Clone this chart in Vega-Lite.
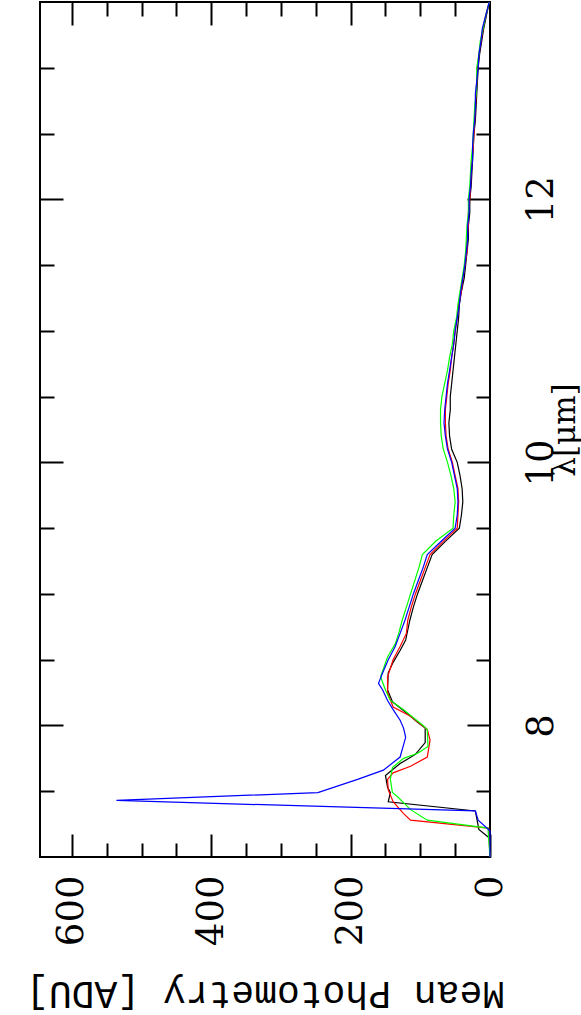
{
"$schema": "https://vega.github.io/schema/vega-lite/v6.json",
"width": 450, "height": 855,
"autosize": "none",
"padding": {"left": 40, "top": 2, "right": 91, "bottom": 158},
"background": "white",
"config": {"view": {"stroke": "black", "strokeWidth": 2}},
"data": {"values": [
{"s":"black","l":7.14,"v":0},{"s":"black","l":7.21,"v":16},{"s":"black","l":7.35,"v":21},{"s":"black","l":7.42,"v":146},{"s":"black","l":7.49,"v":143},{"s":"black","l":7.53,"v":147},{"s":"black","l":7.62,"v":150},{"s":"black","l":7.65,"v":143},{"s":"black","l":7.71,"v":129},{"s":"black","l":7.78,"v":107},{"s":"black","l":7.87,"v":93},{"s":"black","l":7.98,"v":93},{"s":"black","l":8.02,"v":103},{"s":"black","l":8.10,"v":121},{"s":"black","l":8.18,"v":140},{"s":"black","l":8.27,"v":147},{"s":"black","l":8.40,"v":146},{"s":"black","l":8.48,"v":139},{"s":"black","l":8.57,"v":129},{"s":"black","l":8.65,"v":121},
{"s":"black","l":8.7,"v":119},{"s":"black","l":8.8,"v":115},{"s":"black","l":8.9,"v":110},{"s":"black","l":9.0,"v":104},{"s":"black","l":9.1,"v":97},{"s":"black","l":9.2,"v":90},{"s":"black","l":9.3,"v":83},{"s":"black","l":9.4,"v":64},{"s":"black","l":9.5,"v":44},{"s":"black","l":9.6,"v":41},{"s":"black","l":9.7,"v":39},{"s":"black","l":9.8,"v":40},{"s":"black","l":9.9,"v":43},{"s":"black","l":10.0,"v":47},{"s":"black","l":10.1,"v":55},{"s":"black","l":10.2,"v":58},{"s":"black","l":10.3,"v":59},{"s":"black","l":10.4,"v":57},{"s":"black","l":10.5,"v":57},{"s":"black","l":10.6,"v":55},{"s":"black","l":10.7,"v":53},{"s":"black","l":10.8,"v":51},{"s":"black","l":10.9,"v":49},{"s":"black","l":11.0,"v":47},{"s":"black","l":11.1,"v":45},{"s":"black","l":11.2,"v":44},{"s":"black","l":11.3,"v":41},{"s":"black","l":11.4,"v":37},{"s":"black","l":11.5,"v":35},{"s":"black","l":11.6,"v":33},{"s":"black","l":11.7,"v":31},{"s":"black","l":11.8,"v":31},{"s":"black","l":11.9,"v":29},{"s":"black","l":12.0,"v":29},{"s":"black","l":12.1,"v":27},{"s":"black","l":12.2,"v":26},{"s":"black","l":12.3,"v":25},{"s":"black","l":12.4,"v":24},{"s":"black","l":12.5,"v":23},{"s":"black","l":12.6,"v":21},{"s":"black","l":12.7,"v":20},{"s":"black","l":12.8,"v":19},{"s":"black","l":12.9,"v":18},{"s":"black","l":13.0,"v":17},{"s":"black","l":13.1,"v":15},{"s":"black","l":13.2,"v":12},{"s":"black","l":13.3,"v":9},{"s":"black","l":13.4,"v":5},{"s":"black","l":13.5,"v":1},
{"s":"red","l":7.0,"v":0},{"s":"red","l":7.22,"v":2},{"s":"red","l":7.28,"v":114},{"s":"red","l":7.33,"v":124},{"s":"red","l":7.42,"v":139},{"s":"red","l":7.51,"v":146},{"s":"red","l":7.59,"v":147},{"s":"red","l":7.64,"v":139},{"s":"red","l":7.69,"v":114},{"s":"red","l":7.76,"v":90},{"s":"red","l":7.89,"v":86},{"s":"red","l":7.97,"v":90},{"s":"red","l":8.07,"v":114},{"s":"red","l":8.14,"v":139},{"s":"red","l":8.25,"v":147},{"s":"red","l":8.37,"v":147},{"s":"red","l":8.50,"v":139},{"s":"red","l":8.60,"v":129},
{"s":"red","l":8.7,"v":120},{"s":"red","l":8.8,"v":118},{"s":"red","l":8.9,"v":113},{"s":"red","l":9.0,"v":107},{"s":"red","l":9.1,"v":100},{"s":"red","l":9.2,"v":93},{"s":"red","l":9.3,"v":86},{"s":"red","l":9.4,"v":67},{"s":"red","l":9.5,"v":47},{"s":"red","l":9.6,"v":46},{"s":"red","l":9.7,"v":45},{"s":"red","l":9.8,"v":46},{"s":"red","l":9.9,"v":50},{"s":"red","l":10.0,"v":54},{"s":"red","l":10.1,"v":60},{"s":"red","l":10.2,"v":63},{"s":"red","l":10.3,"v":64},{"s":"red","l":10.4,"v":64},{"s":"red","l":10.5,"v":62},{"s":"red","l":10.6,"v":60},{"s":"red","l":10.7,"v":57},{"s":"red","l":10.8,"v":55},{"s":"red","l":10.9,"v":52},{"s":"red","l":11.0,"v":50},{"s":"red","l":11.1,"v":47},{"s":"red","l":11.2,"v":45},{"s":"red","l":11.3,"v":41},{"s":"red","l":11.4,"v":39},{"s":"red","l":11.5,"v":36},{"s":"red","l":11.6,"v":33},{"s":"red","l":11.7,"v":33},{"s":"red","l":11.8,"v":31},{"s":"red","l":11.9,"v":31},{"s":"red","l":12.0,"v":29},{"s":"red","l":12.1,"v":28},{"s":"red","l":12.2,"v":27},{"s":"red","l":12.3,"v":26},{"s":"red","l":12.4,"v":24},{"s":"red","l":12.5,"v":23},{"s":"red","l":12.6,"v":22},{"s":"red","l":12.7,"v":21},{"s":"red","l":12.8,"v":20},{"s":"red","l":12.9,"v":19},{"s":"red","l":13.0,"v":18},{"s":"red","l":13.1,"v":16},{"s":"red","l":13.2,"v":13},{"s":"red","l":13.3,"v":10},{"s":"red","l":13.4,"v":6},{"s":"red","l":13.5,"v":1},
{"s":"green","l":7.0,"v":0},{"s":"green","l":7.22,"v":3},{"s":"green","l":7.28,"v":90},{"s":"green","l":7.36,"v":114},{"s":"green","l":7.46,"v":133},{"s":"green","l":7.49,"v":140},{"s":"green","l":7.59,"v":143},{"s":"green","l":7.68,"v":140},{"s":"green","l":7.75,"v":124},{"s":"green","l":7.79,"v":103},{"s":"green","l":7.84,"v":89},{"s":"green","l":7.97,"v":90},{"s":"green","l":8.0,"v":96},{"s":"green","l":8.12,"v":124},{"s":"green","l":8.19,"v":143},{"s":"green","l":8.27,"v":150},{"s":"green","l":8.37,"v":157},{"s":"green","l":8.52,"v":147},{"s":"green","l":8.62,"v":136},
{"s":"green","l":8.7,"v":131},{"s":"green","l":8.8,"v":126},{"s":"green","l":8.9,"v":120},{"s":"green","l":9.0,"v":114},{"s":"green","l":9.1,"v":108},{"s":"green","l":9.2,"v":102},{"s":"green","l":9.3,"v":97},{"s":"green","l":9.4,"v":78},{"s":"green","l":9.5,"v":53},{"s":"green","l":9.6,"v":52},{"s":"green","l":9.7,"v":50},{"s":"green","l":9.8,"v":52},{"s":"green","l":9.9,"v":56},{"s":"green","l":10.0,"v":61},{"s":"green","l":10.1,"v":67},{"s":"green","l":10.2,"v":70},{"s":"green","l":10.3,"v":71},{"s":"green","l":10.4,"v":71},{"s":"green","l":10.5,"v":69},{"s":"green","l":10.6,"v":65},{"s":"green","l":10.7,"v":61},{"s":"green","l":10.8,"v":58},{"s":"green","l":10.9,"v":54},{"s":"green","l":11.0,"v":52},{"s":"green","l":11.1,"v":48},{"s":"green","l":11.2,"v":46},{"s":"green","l":11.3,"v":43},{"s":"green","l":11.4,"v":40},{"s":"green","l":11.5,"v":37},{"s":"green","l":11.6,"v":35},{"s":"green","l":11.7,"v":34},{"s":"green","l":11.8,"v":33},{"s":"green","l":11.9,"v":31},{"s":"green","l":12.0,"v":31},{"s":"green","l":12.1,"v":29},{"s":"green","l":12.2,"v":28},{"s":"green","l":12.3,"v":27},{"s":"green","l":12.4,"v":25},{"s":"green","l":12.5,"v":24},{"s":"green","l":12.6,"v":23},{"s":"green","l":12.7,"v":22},{"s":"green","l":12.8,"v":20},{"s":"green","l":12.9,"v":19},{"s":"green","l":13.0,"v":19},{"s":"green","l":13.1,"v":16},{"s":"green","l":13.2,"v":14},{"s":"green","l":13.3,"v":10},{"s":"green","l":13.4,"v":6},{"s":"green","l":13.5,"v":1},
{"s":"blue","l":7.0,"v":0},{"s":"blue","l":7.2,"v":0},{"s":"blue","l":7.28,"v":17},{"s":"blue","l":7.35,"v":21},{"s":"blue","l":7.43,"v":536},{"s":"blue","l":7.49,"v":247},{"s":"blue","l":7.59,"v":190},{"s":"blue","l":7.66,"v":153},{"s":"blue","l":7.76,"v":129},{"s":"blue","l":7.91,"v":121},{"s":"blue","l":7.98,"v":124},{"s":"blue","l":8.04,"v":129},{"s":"blue","l":8.12,"v":139},{"s":"blue","l":8.19,"v":147},{"s":"blue","l":8.27,"v":154},{"s":"blue","l":8.32,"v":160},{"s":"blue","l":8.40,"v":154},{"s":"blue","l":8.50,"v":146},{"s":"blue","l":8.60,"v":136},
{"s":"blue","l":8.7,"v":129},{"s":"blue","l":8.8,"v":122},{"s":"blue","l":8.9,"v":116},{"s":"blue","l":9.0,"v":110},{"s":"blue","l":9.1,"v":103},{"s":"blue","l":9.2,"v":96},{"s":"blue","l":9.3,"v":90},{"s":"blue","l":9.4,"v":70},{"s":"blue","l":9.5,"v":50},{"s":"blue","l":9.6,"v":47},{"s":"blue","l":9.7,"v":46},{"s":"blue","l":9.8,"v":47},{"s":"blue","l":9.9,"v":51},{"s":"blue","l":10.0,"v":55},{"s":"blue","l":10.1,"v":61},{"s":"blue","l":10.2,"v":64},{"s":"blue","l":10.3,"v":66},{"s":"blue","l":10.4,"v":65},{"s":"blue","l":10.5,"v":63},{"s":"blue","l":10.6,"v":61},{"s":"blue","l":10.7,"v":58},{"s":"blue","l":10.8,"v":55},{"s":"blue","l":10.9,"v":52},{"s":"blue","l":11.0,"v":50},{"s":"blue","l":11.1,"v":47},{"s":"blue","l":11.2,"v":44},{"s":"blue","l":11.3,"v":42},{"s":"blue","l":11.4,"v":39},{"s":"blue","l":11.5,"v":36},{"s":"blue","l":11.6,"v":34},{"s":"blue","l":11.7,"v":32},{"s":"blue","l":11.8,"v":32},{"s":"blue","l":11.9,"v":30},{"s":"blue","l":12.0,"v":30},{"s":"blue","l":12.1,"v":28},{"s":"blue","l":12.2,"v":27},{"s":"blue","l":12.3,"v":25},{"s":"blue","l":12.4,"v":25},{"s":"blue","l":12.5,"v":24},{"s":"blue","l":12.6,"v":22},{"s":"blue","l":12.7,"v":21},{"s":"blue","l":12.8,"v":21},{"s":"blue","l":12.9,"v":19},{"s":"blue","l":13.0,"v":17},{"s":"blue","l":13.1,"v":16},{"s":"blue","l":13.2,"v":13},{"s":"blue","l":13.3,"v":11},{"s":"blue","l":13.4,"v":6},{"s":"blue","l":13.5,"v":1}
]},
"layer": [
{
"mark": {"type": "line", "strokeWidth": 1.2, "interpolate": "linear"},
"encoding": {
"x": {"field": "v", "type": "quantitative",
"scale": {"domain": [0, 645.7], "reverse": true, "nice": false, "zero": false},
"axis": {"orient": "bottom", "values": [0,50,100,150,200,250,300,350,400,450,500,550,600],
"domain": false, "grid": false, "tickColor": "black", "tickWidth": 2,
"tickSize": {"condition": {"test": "datum.value % 200 === 0", "value": -23}, "value": -14},
"labelExpr": "datum.value % 200 === 0 ? format(datum.value, 'd') : ''",
"labelAngle": 270, "labelAlign": "right", "labelBaseline": "middle",
"labelFont": "DejaVu Serif", "labelFontSize": 37, "labelColor": "black",
"labelPadding": 41, "labelFlush": false, "labelOverlap": false, "labelBound": false,
"title": "Mean Photometry [ADU]", "titleAngle": 180, "titleBaseline": "bottom",
"titleFont": "Liberation Mono", "titleFontSize": 38, "titleFontWeight": "normal",
"titleColor": "black", "titlePadding": 28}},
"y": {"field": "l", "type": "quantitative",
"scale": {"domain": [7, 13.5], "nice": false, "zero": false},
"axis": {"orient": "right", "values": [7.5,8,8.5,9,9.5,10,10.5,11,11.5,12,12.5,13],
"domain": false, "grid": false, "tickColor": "black", "tickWidth": 2,
"tickSize": {"condition": {"test": "datum.value % 2 === 0", "value": -23}, "value": -14},
"labelExpr": "datum.value % 2 === 0 ? format(datum.value, 'd') : ''",
"labelAngle": 270, "labelAlign": "center", "labelBaseline": "top",
"labelFont": "DejaVu Serif", "labelFontSize": 37, "labelColor": "black",
"labelPadding": 56, "labelFlush": false, "labelOverlap": false, "labelBound": false,
"title": "λ[μm]", "titleAngle": 270, "titleBaseline": "top",
"titleFont": "DejaVu Serif", "titleFontSize": 31, "titleFontWeight": "normal",
"titleColor": "black", "titlePadding": -18}},
"color": {"field": "s", "type": "nominal",
"scale": {"domain": ["black","red","green","blue"], "range": ["#000000","#ff0000","#00ff00","#0000ff"]},
"legend": null},
"order": {"field": "l", "type": "quantitative"}
}
},
{
"mark": {"type": "line", "opacity": 0},
"encoding": {
"x": {"field": "v", "type": "quantitative",
"axis": {"orient": "top", "values": [50,100,150,200,250,300,350,400,450,500,550,600],
"domain": false, "grid": false, "tickColor": "black", "tickWidth": 2,
"tickSize": {"condition": {"test": "datum.value % 200 === 0", "value": -23}, "value": -14},
"labels": false, "title": null}},
"y": {"field": "l", "type": "quantitative",
"axis": {"orient": "left", "values": [7.5,8,8.5,9,9.5,10,10.5,11,11.5,12,12.5,13],
"domain": false, "grid": false, "tickColor": "black", "tickWidth": 2,
"tickSize": {"condition": {"test": "datum.value % 2 === 0", "value": -23}, "value": -14},
"labels": false, "title": null}},
"detail": {"field": "s", "type": "nominal"},
"order": {"field": "l", "type": "quantitative"}
}
}
],
"resolve": {"axis": {"x": "independent", "y": "independent"}}
}
